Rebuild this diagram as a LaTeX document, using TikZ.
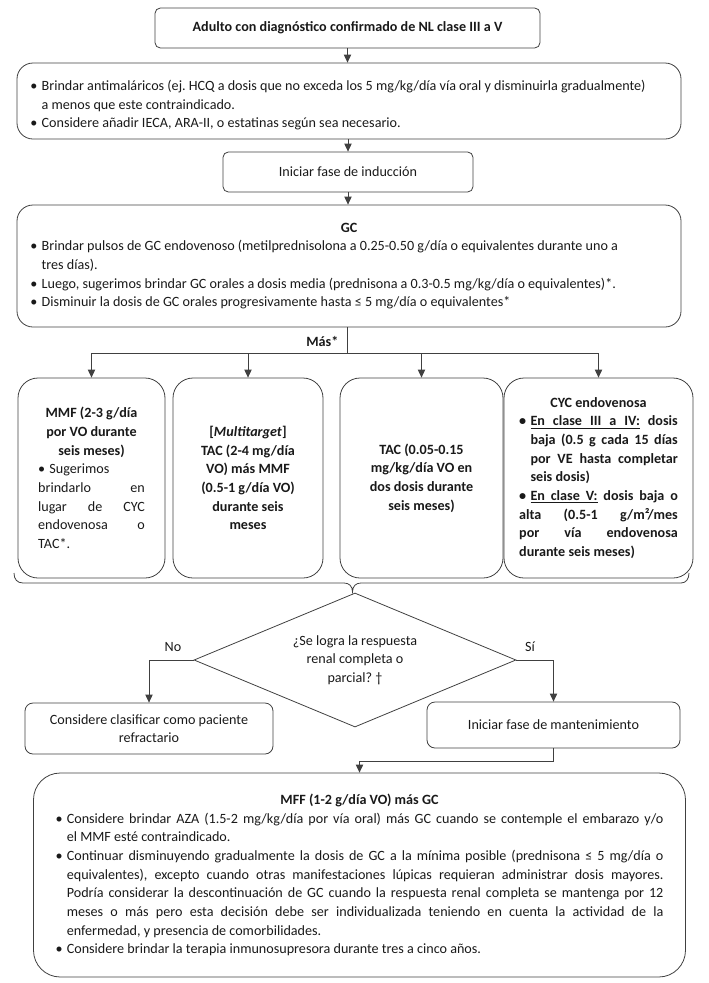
\documentclass[tikz,border=0pt]{standalone}
\usepackage{fontspec}
\setmainfont{Carlito}
\usetikzlibrary{shapes.geometric,arrows.meta}
\hyphenpenalty=10000
\exhyphenpenalty=10000
\frenchspacing
\newcommand{\blt}[1]{\par\hangindent=8.5pt\hangafter=1\noindent\hbox to 8.5pt{\textbullet\hfil}#1}
\newcommand{\uw}[1]{\setbox0\hbox{#1}\rlap{\vrule height -1.4pt depth 2pt width \wd0}\box0\relax}
\newcommand{\usp}{\leaders\hrule height -1.4pt depth 2pt\hskip\fontdimen2\font plus\fontdimen3\font minus\fontdimen4\font\relax}
\tikzset{
  caja/.style={draw=black!75, line width=0.6pt, inner sep=0pt, text=black!90, font=\fontsize{10.6}{14}\selectfont},
  etiq/.style={text=black!90, font=\fontsize{10.6}{14}\selectfont},
  linea/.style={draw=black!75, line width=0.6pt},
  flecha/.style={linea, -{Triangle[length=6pt,width=5.5pt]}}
}

\begin{document}
\begin{tikzpicture}[x=0.75pt,y=0.75pt,yscale=-1,xscale=1]
    \path[use as bounding box] (0,0) rectangle (708,983);

    %Rounded Rect
    \node[caja, rounded corners=4pt, minimum width=288.75pt, minimum height=30pt] (diag) at (347.5,28) {\bfseries Adulto con diagnóstico confirmado de NL clase III a V};
    %Rounded Rect
    \node[caja, rounded corners=12pt, minimum width=498pt, minimum height=57pt, text width=478pt, align=justify] (antim) at (349,101) {\blt{Brindar antimaláricos (ej. HCQ a dosis que no exceda los 5 mg/kg/día vía oral y disminuirla gradualmente)\newline a menos que este contraindicado.}\blt{Considere añadir IECA, ARA-II, o estatinas según sea necesario.}};
    %Rounded Rect
    \node[caja, rounded corners=4pt, minimum width=187.5pt, minimum height=30pt] (induc) at (348,172) {Iniciar fase de inducción};
    %Rounded Rect
    \node[caja, rounded corners=12pt, minimum width=498pt, minimum height=91.5pt, text width=478pt, align=justify] (gc) at (349,266) {{\centering\bfseries GC\par}\blt{Brindar pulsos de GC endovenoso (metilprednisolona a 0.25-0.50 g/día o equivalentes durante uno a\newline tres días).}\blt{Luego, sugerimos brindar GC orales a dosis media (prednisona a 0.3-0.5 mg/kg/día o equivalentes)*.}\blt{Disminuir la dosis de GC orales progresivamente hasta ≤ 5 mg/día o equivalentes*}};

    %Straight Lines
    \draw[flecha] (diag.south) -- (diag.south |- antim.north);
    \draw[flecha] (induc.north |- antim.south) -- (induc.north);
    \draw[flecha] (induc.south) -- (induc.south |- gc.north);

    \node[etiq, anchor=east] (mas) at (343,341) {\bfseries Más*};
    \coordinate (split) at (347,353);
    \draw[linea] (split |- gc.south) -- (split);

    %Rounded Rect
    \node[caja, rounded corners=15pt, minimum width=110.25pt, minimum height=150pt, text width=80pt, align=justify] (mmf) at (91.5,478) {{\centering\bfseries MMF (2-3 g/día\\por VO durante\\seis meses)\par}\blt{Sugerimos\linebreak brindarlo en\linebreak lugar de CYC\linebreak endovenosa o\linebreak TAC*.}};
    %Rounded Rect
    \node[caja, rounded corners=15pt, minimum width=112.5pt, minimum height=150pt, align=center] (multi) at (248,478) {\bfseries [\textit{Multitarget}]\\\bfseries TAC (2-4 mg/día\\\bfseries VO) más MMF\\\bfseries (0.5-1 g/día VO)\\\bfseries durante seis\\\bfseries meses};
    %Rounded Rect
    \node[caja, rounded corners=15pt, minimum width=122.25pt, minimum height=150pt, align=center] (tac) at (421.5,478) {\bfseries TAC (0.05-0.15\\\bfseries mg/kg/día VO en\\\bfseries dos dosis durante\\\bfseries seis meses)};
    %Rounded Rect
    \node[caja, rounded corners=15pt, minimum width=141.75pt, minimum height=150pt, text width=119pt, align=justify] (cyc) at (598.5,478) {{\centering\bfseries CYC endovenosa\par}\bfseries\blt{\uw{En}\usp\uw{clase}\usp\uw{III}\usp\uw{a}\usp\uw{IV:} dosis\linebreak baja (0.5 g cada 15 días\linebreak por VE hasta completar\linebreak seis dosis)}\blt{\uw{En}\usp\uw{clase}\usp\uw{V:} dosis baja o\linebreak alta (0.5-1 g/m²/mes\linebreak por vía endovenosa\linebreak durante seis meses)}};

    %Straight Lines
    \draw[flecha] (split) -| (mmf.north);
    \draw[flecha] (split) -| (multi.north);
    \draw[flecha] (split) -| (tac.north);
    \draw[flecha] (split) -| (cyc.north);

    %Shape: Brace
    \coordinate (punta) at (352.5,592);
    \draw[linea] (14,573) .. controls (14,579) and (17,583) .. (23,583) -- (344,583) .. controls (349,583) and (352.5,586) .. (punta) .. controls (352.5,586) and (356,583) .. (361,583) -- (681,583) .. controls (686,583) and (689,579) .. (689,573);

    %Shape: Diamond
    \node[caja, diamond, shape aspect=2.4, minimum width=241.5pt, minimum height=100.5pt, align=center] (dia) at (355,660) {¿Se logra la respuesta\\renal completa o\\parcial? †};
    \draw[linea] (punta) -- (punta |- dia.north);

    %Rounded Rect
    \node[caja, rounded corners=6pt, minimum width=186pt, minimum height=38.25pt, align=center] (refr) at (149,728.5) {Considere clasificar como paciente\\refractario};
    %Rounded Rect
    \node[caja, rounded corners=6pt, minimum width=189.75pt, minimum height=34.5pt] (mant) at (553.5,725) {Iniciar fase de mantenimiento};

    \node[etiq] (no) at (173,647) {No};
    \node[etiq] (si) at (530,647) {Sí};
    \draw[flecha] (dia.west) -| (refr.north);
    \draw[flecha] (dia.east) -| (mant.north);

    %Rounded Rect
    \node[caja, rounded corners=20pt, minimum width=489pt, minimum height=153pt, text width=456pt, align=justify] (mff) at (359.5,875) {{\centering\bfseries MFF (1-2 g/día VO) más GC\par}\blt{Considere brindar AZA (1.5-2 mg/kg/día por vía oral) más GC cuando se contemple el embarazo y/o\linebreak el MMF esté contraindicado.}\blt{Continuar disminuyendo gradualmente la dosis de GC a la mínima posible (prednisona ≤ 5 mg/día o\linebreak equivalentes), excepto cuando otras manifestaciones lúpicas requieran administrar dosis mayores.\linebreak Podría considerar la descontinuación de GC cuando la respuesta renal completa se mantenga por 12\linebreak meses o más pero esta decisión debe ser individualizada teniendo en cuenta la actividad de la\linebreak enfermedad, y presencia de comorbilidades.}\blt{Considere brindar la terapia inmunosupresora durante tres a cinco años.}};
    \draw[flecha] (mant.south) -- ++(0,13) -| (mff.north);

\end{tikzpicture}
\end{document}
